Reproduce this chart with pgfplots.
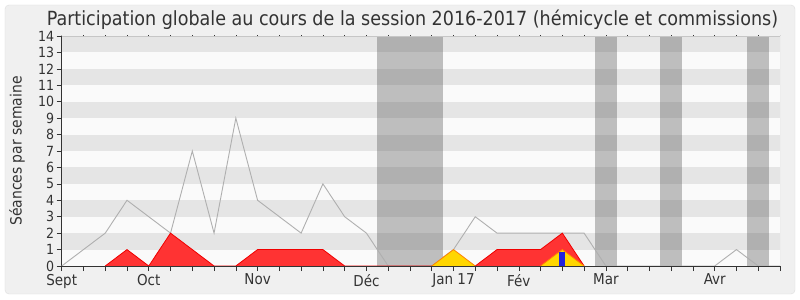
\documentclass[border=0pt]{standalone}
\usepackage{fontspec}
\setmainfont{DejaVu Sans Condensed}
\usepackage{pgfplots}
\pgfplotsset{compat=1.18}
\definecolor{panel}{RGB}{240,240,240}
\definecolor{panelborder}{RGB}{222,222,222}
\definecolor{stripe}{RGB}{229,229,229}
\definecolor{plotbg}{RGB}{250,250,250}
\definecolor{vac}{RGB}{70,70,70}
\definecolor{txt}{RGB}{51,51,51}
\definecolor{redfill}{RGB}{255,51,51}
\definecolor{redline}{RGB}{240,0,0}
\definecolor{yellowfill}{RGB}{255,214,0}
\definecolor{orangeline}{RGB}{255,130,0}
\definecolor{bluebar}{RGB}{34,34,221}
\definecolor{grayline}{RGB}{175,175,175}
\definecolor{greenbase}{RGB}{0,100,0}
\definecolor{darkredbase}{RGB}{110,0,0}
\begin{document}
\begin{tikzpicture}
\path[use as bounding box] (-61.7bp,-34bp) rectangle (738.3bp,266bp);
\fill[white] (-61.7bp,-34bp) rectangle (738.3bp,266bp);
\draw[panelborder, fill=panel, rounded corners=4bp] (-56.7bp,-28bp) rectangle (733.3bp,261bp);
\begin{axis}[
  scale only axis, width=718.3bp, height=230bp,
  xmin=0, xmax=33, ymin=0, ymax=14,
  axis x line*=bottom, axis y line*=left,
  axis line style={txt, line width=0.6pt},
  axis background/.style={fill=plotbg},
  tick align=outside, major tick length=5bp,
  tick style={txt, line width=0.6pt},
  /pgf/number format/assume math mode=true,
  xtick={0,...,33},
  xticklabels={Sept,,,,Oct,,,,,Nov,,,,,Déc,,,,Jan 17,,,Fév,,,,Mar,,,,,Avr,,,},
  ytick={0,...,14},
  xticklabel style={font=\fontsize{15bp}{15bp}\selectfont, text=txt, yshift=0.5bp},
  yticklabel style={font=\fontsize{14bp}{14bp}\selectfont, text=txt, xshift=1bp},
  ylabel={Séances par semaine},
  every axis y label/.style={at={(axis description cs:-0.0622,0.5)}, rotate=90, anchor=center, font=\fontsize{15.5bp}{15.5bp}\selectfont, text=txt},
  title={Participation globale au cours de la session 2016-2017 (hémicycle et commissions)},
  every axis title/.style={at={(axis description cs:0.4884,1.0435)}, anchor=base, font=\fontsize{19.5bp}{19.5bp}\selectfont, text=txt},
  clip=true,
]
% stripes
\addplot[fill=stripe, draw=none] coordinates {(0,1)(33,1)(33,2)(0,2)};
\addplot[fill=stripe, draw=none] coordinates {(0,3)(33,3)(33,4)(0,4)};
\addplot[fill=stripe, draw=none] coordinates {(0,5)(33,5)(33,6)(0,6)};
\addplot[fill=stripe, draw=none] coordinates {(0,7)(33,7)(33,8)(0,8)};
\addplot[fill=stripe, draw=none] coordinates {(0,9)(33,9)(33,10)(0,10)};
\addplot[fill=stripe, draw=none] coordinates {(0,11)(33,11)(33,12)(0,12)};
\addplot[fill=stripe, draw=none] coordinates {(0,13)(33,13)(33,14)(0,14)};
% vacation bands
\addplot[fill=vac, fill opacity=0.33, draw=none] coordinates {(14.5,0)(14.5,14)(17.5,14)(17.5,0)};
\addplot[fill=vac, fill opacity=0.33, draw=none] coordinates {(24.5,0)(24.5,14)(25.5,14)(25.5,0)};
\addplot[fill=vac, fill opacity=0.33, draw=none] coordinates {(27.5,0)(27.5,14)(28.5,14)(28.5,0)};
\addplot[fill=vac, fill opacity=0.33, draw=none] coordinates {(31.5,0)(31.5,14)(32.5,14)(32.5,0)};
% total presence (gray line)
\addplot[grayline, line width=0.9pt] coordinates {
(0,0)(1,1)(2,2)(3,4)(4,3)(5,2)(6,7)(7,2)(8,9)(9,4)(10,3)(11,2)(12,5)(13,3)(14,2)(15,0)
(16,0)(17,0)(18,1)(19,3)(20,2)(21,2)(22,2)(23,2)(24,2)(25,0)(26,0)(27,0)(28,0)(29,0)(30,0)(31,1)(32,0)(33,0)};
% red area
\addplot[fill=redfill, draw=none] coordinates {
(0,0)(1,0)(2,0)(3,1)(4,0)(5,2)(6,1)(7,0)(8,0)(9,1)(10,1)(11,1)(12,1)(13,0)(14,0)(15,0)
(16,0)(17,0)(18,0)(19,0)(20,1)(21,1)(22,1)(23,2)(24,0)(25,0)(26,0)(27,0)(28,0)(29,0)(30,0)(31,0)(32,0)(33,0)} \closedcycle;
\addplot[redline, line width=0.8pt] coordinates {
(2,0)(3,1)(4,0)(5,2)(6,1)(7,0)(8,0)(9,1)(10,1)(11,1)(12,1)(13,0)
(19,0)(20,1)(21,1)(22,1)(23,2)(24,0)};
% yellow area
\addplot[fill=yellowfill, draw=orangeline, line width=0.8pt] coordinates {(17,0)(18,1)(19,0)};
\addplot[fill=yellowfill, draw=orangeline, line width=0.8pt] coordinates {(22,0)(23,1)(24,0)};
% baseline
\addplot[greenbase, line width=0.9pt] coordinates {(0,0)(33,0)};
\addplot[darkredbase, line width=0.9pt, unbounded coords=jump] coordinates {(0,0)(2,0)(2,nan)(7,0)(8,0)(8,nan)(13,0)(17,0)(17,nan)(24,0)(33,0)};
% blue bar
\addplot[ybar, bar width=5.7bp, fill=bluebar, draw=none] coordinates {(23,0.87)};
% frame decorations
\draw[gray!45, line width=0.6pt] (rel axis cs:0,1) -- (rel axis cs:1,1);
\draw[gray!25, line width=0.6pt] (rel axis cs:1,0) -- (rel axis cs:1,1);
\pgfplotsinvokeforeach{0,...,33}{\draw[txt, line width=0.6pt] (axis cs:#1,14) -- ++(0,1.5bp);}
\end{axis}
\end{tikzpicture}
\end{document}
